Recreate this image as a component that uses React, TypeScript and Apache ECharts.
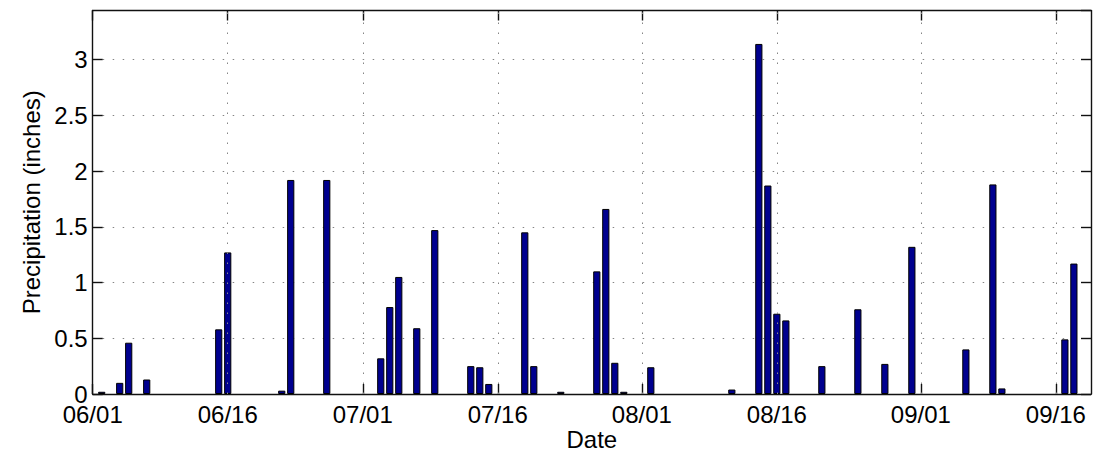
import React, { useEffect, useRef } from "react";
import * as echarts from "echarts";

const barDates = [
  "06/02", "06/04", "06/05", "06/07", "06/15", "06/16", "06/22", "06/23", "06/27",
  "07/03", "07/04", "07/05", "07/07", "07/09", "07/13", "07/14", "07/15", "07/19",
  "07/20", "07/23", "07/27", "07/28", "07/29", "07/30", "08/02", "08/11", "08/14",
  "08/15", "08/16", "08/17", "08/21", "08/25", "08/28", "08/31", "09/06", "09/09",
  "09/10", "09/17", "09/18",
];
const precipValues = [
  0.02, 0.1, 0.46, 0.13, 0.58, 1.27, 0.03, 1.92, 1.92,
  0.32, 0.78, 1.05, 0.59, 1.47, 0.25, 0.24, 0.09, 1.45,
  0.25, 0.02, 1.1, 1.66, 0.28, 0.02, 0.24, 0.04, 3.14,
  1.87, 0.72, 0.66, 0.25, 0.76, 0.27, 1.32, 0.4, 1.88,
  0.05, 0.49, 1.17,
];
const tickLabels = ["06/01", "06/16", "07/01", "07/16", "08/01", "08/16", "09/01", "09/16"];
const xLastDay = 110.9;
const yMax = 3.44;

const dayOf = (s: string) => {
  const [m, d] = s.split("/").map(Number);
  return Math.round((Date.UTC(2001, m - 1, d) - Date.UTC(2001, 5, 1)) / 86400000);
};

const tickDays = tickLabels.map(dayOf);
const labelByDay: Record<number, string> = {};
tickDays.forEach((d, i) => (labelByDay[d] = tickLabels[i]));
const barData = barDates.map((s, i) => [dayOf(s), precipValues[i]]);

const FONT = "'Liberation Sans', Arial, sans-serif";
const FS = 24;
const gridDot = { color: "#858585", width: 1, type: [1.5, 8.5] as any };

export default function App() {
  const ref = useRef<HTMLDivElement>(null);
  useEffect(() => {
    if (!ref.current) return;
    const chart = echarts.init(ref.current, null, { renderer: "svg" });
    const axisLine = { show: true, onZero: false, lineStyle: { color: "#111", width: 1.4 } };
    const tickStyle = { color: "#111", width: 1.4 };
    chart.setOption({
      animation: false,
      backgroundColor: "#fff",
      textStyle: { fontFamily: FONT },
      grid: {
        left: 92.7,
        right: 3,
        top: 10.5,
        bottom: 59,
        containLabel: false,
        outerBoundsMode: "none",
      },
      xAxis: [
        {
          type: "value",
          min: 0,
          max: xLastDay,
          position: "bottom",
          name: "Date",
          nameLocation: "middle",
          nameGap: 33,
          nameMoveOverlap: false,
          nameTextStyle: { fontSize: FS, color: "#000", fontFamily: FONT },
          axisLine,
          axisTick: {
            show: true,
            inside: true,
            length: 10,
            customValues: tickDays,
            lineStyle: tickStyle,
          },
          axisLabel: {
            customValues: tickDays,
            formatter: (v: number) => labelByDay[Math.round(v)] ?? "",
            fontSize: FS,
            color: "#000",
            margin: 8,
            fontFamily: FONT,
          },
          splitLine: { show: false },
        },
        {
          type: "value",
          min: 0,
          max: xLastDay,
          position: "top",
          axisLine,
          axisTick: {
            show: true,
            inside: true,
            length: 10,
            customValues: tickDays,
            lineStyle: tickStyle,
          },
          axisLabel: { show: false },
          splitLine: { show: false },
        },
      ],
      yAxis: [
        {
          type: "value",
          min: 0,
          max: yMax,
          interval: 0.5,
          position: "left",
          name: "Precipitation (inches)",
          nameLocation: "middle",
          nameGap: 49,
          nameMoveOverlap: false,
          nameTextStyle: { fontSize: FS, color: "#000", fontFamily: FONT },
          axisLine,
          axisTick: { show: true, inside: true, length: 10, lineStyle: tickStyle },
          axisLabel: {
            fontSize: FS,
            color: "#000",
            margin: 5,
            showMaxLabel: false,
            fontFamily: FONT,
          },
          splitLine: { show: true, lineStyle: gridDot },
        },
        {
          type: "value",
          min: 0,
          max: yMax,
          interval: 0.5,
          position: "right",
          axisLine,
          axisTick: { show: true, inside: true, length: 10, lineStyle: tickStyle },
          axisLabel: { show: false },
          splitLine: { show: false },
        },
      ],
      series: [
        {
          type: "line",
          data: [],
          z: 1,
          silent: true,
          markLine: {
            silent: true,
            symbol: ["none", "none"],
            label: { show: false },
            lineStyle: gridDot,
            data: tickDays.slice(1).map((d) => ({ xAxis: d })),
          },
        },
        {
          type: "bar",
          z: 3,
          data: barData,
          barWidth: 7.2,
          itemStyle: { color: "#00008f", borderColor: "#000", borderWidth: 1 },
        },
      ],
    });
    return () => chart.dispose();
  }, []);
  return (
    <div
      ref={ref}
      style={{ position: "absolute", left: 0, top: 0, width: 1094, height: 453 }}
    />
  );
}
